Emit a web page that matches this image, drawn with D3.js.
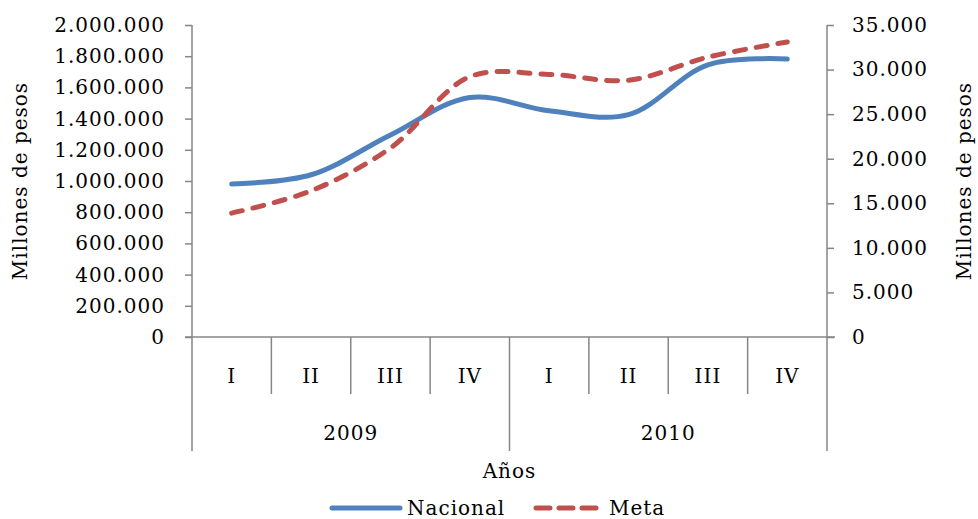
<!DOCTYPE html>
<html>
<head>
<meta charset="utf-8">
<script src="https://cdn.jsdelivr.net/npm/d3@7"></script>
<style>
  body { margin: 0; background: #fff; }
  text { font-family: "DejaVu Serif", serif; font-size: 20px; letter-spacing: 1px; fill: #000; }
  .axis path, .axis line { stroke: #868686; stroke-width: 1.5; }
</style>
</head>
<body>
<div id="chart"></div>
<script>
// data
var years = ["2009", "2010"];
var quarters = ["I", "II", "III", "IV"];
var nacional = [980000, 1040000, 1295000, 1535000, 1450000, 1425000, 1745000, 1782000];
var meta = [13900, 16400, 21200, 29200, 29450, 28800, 31400, 33100];
var leftTicks = [0, 200000, 400000, 600000, 800000, 1000000, 1200000, 1400000, 1600000, 1800000, 2000000];
var rightTicks = [0, 5000, 10000, 15000, 20000, 25000, 30000, 35000];

var W = 978, H = 519;
// plot box (note: "top" is taken by window.top, so use pTop etc.)
var pLeft = 192, pRight = 827, pTop = 25, pBottom = 337;

// one key per quarter
var cats = [];
years.forEach(function(y) {
    quarters.forEach(function(q) { cats.push(y + "-" + q); });
});

var x = d3.scaleBand().domain(cats).range([pLeft, pRight]);
var yL = d3.scaleLinear().domain([0, 2000000]).range([pBottom, pTop]);
var yR = d3.scaleLinear().domain([0, 35000]).range([pBottom, pTop]);

var es = d3.formatLocale({decimal: ",", thousands: ".", grouping: [3], currency: ["$", ""]});
var fmt = es.format(",.0f");

var svg = d3.select("#chart").append("svg")
    .attr("width", W)
    .attr("height", H);

// left axis
var gl = svg.append("g")
    .attr("class", "axis")
    .attr("transform", "translate(" + pLeft + ",0)")
    .call(d3.axisLeft(yL).tickValues(leftTicks).tickSize(7).tickPadding(20).tickFormat(fmt));
gl.select(".domain").remove();

// right axis
var gr = svg.append("g")
    .attr("class", "axis")
    .attr("transform", "translate(" + pRight + ",0)")
    .call(d3.axisRight(yR).tickValues(rightTicks).tickSize(7).tickPadding(18).tickFormat(fmt));
gr.select(".domain").remove();

svg.selectAll(".axis text")
    .style("font-family", "DejaVu Serif")
    .style("font-size", "20px");

// vertical axis lines running down to the year row
svg.append("line").attr("x1", pLeft).attr("x2", pLeft).attr("y1", pTop).attr("y2", 451)
    .attr("stroke", "#868686").attr("stroke-width", 1.5);
svg.append("line").attr("x1", pRight).attr("x2", pRight).attr("y1", pTop).attr("y2", 451)
    .attr("stroke", "#868686").attr("stroke-width", 1.5);

// horizontal base line
svg.append("line").attr("x1", pLeft - 7).attr("x2", pRight + 8).attr("y1", pBottom).attr("y2", pBottom)
    .attr("stroke", "#868686").attr("stroke-width", 1.5);

// quarter dividers
cats.forEach(function(c, i) {
    if (i === 0) return;
    var xx = x(c);
    var yearEdge = i % quarters.length === 0;
    svg.append("line")
        .attr("x1", xx).attr("x2", xx)
        .attr("y1", pBottom).attr("y2", yearEdge ? 451 : 394)
        .attr("stroke", "#868686").attr("stroke-width", 1.5);
});

// quarter labels
svg.selectAll(".qlab")
    .data(cats)
    .enter()
    .append("text")
    .attr("class", "qlab")
    .attr("x", function(d) { return x(d) + x.bandwidth() / 2; })
    .attr("y", 383)
    .attr("text-anchor", "middle")
    .text(function(d) { return d.split("-")[1]; });

// year labels
svg.selectAll(".ylab")
    .data(years)
    .enter()
    .append("text")
    .attr("class", "ylab")
    .attr("x", function(d) {
        return (x(d + "-I") + x(d + "-IV") + x.bandwidth()) / 2;
    })
    .attr("y", 440)
    .attr("text-anchor", "middle")
    .text(function(d) { return d; });

// axis titles
svg.append("text")
    .attr("x", (pLeft + pRight) / 2)
    .attr("y", 478)
    .attr("text-anchor", "middle")
    .text("Años");

svg.append("text")
    .attr("transform", "translate(27," + ((pTop + pBottom) / 2) + ") rotate(-90)")
    .attr("text-anchor", "middle")
    .text("Millones de pesos");

svg.append("text")
    .attr("transform", "translate(971," + ((pTop + pBottom) / 2) + ") rotate(-90)")
    .attr("text-anchor", "middle")
    .text("Millones de pesos");

// lines
var cx = function(d, i) { return x(cats[i]) + x.bandwidth() / 2; };

var lineL = d3.line()
    .x(cx)
    .y(function(d) { return yL(d); })
    .curve(d3.curveCatmullRom.alpha(0.5));

var lineR = d3.line()
    .x(cx)
    .y(function(d) { return yR(d); })
    .curve(d3.curveCatmullRom.alpha(0.5));

svg.append("path")
    .datum(nacional)
    .attr("d", lineL)
    .attr("fill", "none")
    .attr("stroke", "#4F81BD")
    .attr("stroke-width", 5)
    .attr("stroke-linecap", "round");

svg.append("path")
    .datum(meta)
    .attr("d", lineR)
    .attr("fill", "none")
    .attr("stroke", "#C0504D")
    .attr("stroke-width", 5)
    .attr("stroke-linecap", "round")
    .attr("stroke-dasharray", "11,11");

// legend
var leg = svg.append("g");
leg.append("line")
    .attr("x1", 332).attr("x2", 400).attr("y1", 508).attr("y2", 508)
    .attr("stroke", "#4F81BD").attr("stroke-width", 5).attr("stroke-linecap", "round");
leg.append("text").attr("x", 407).attr("y", 515).text("Nacional");
leg.append("line")
    .attr("x1", 536).attr("x2", 596).attr("y1", 508).attr("y2", 508)
    .attr("stroke", "#C0504D").attr("stroke-width", 5).attr("stroke-linecap", "round")
    .attr("stroke-dasharray", "14,9");
leg.append("text").attr("x", 609).attr("y", 515).text("Meta");
</script>
</body>
</html>
